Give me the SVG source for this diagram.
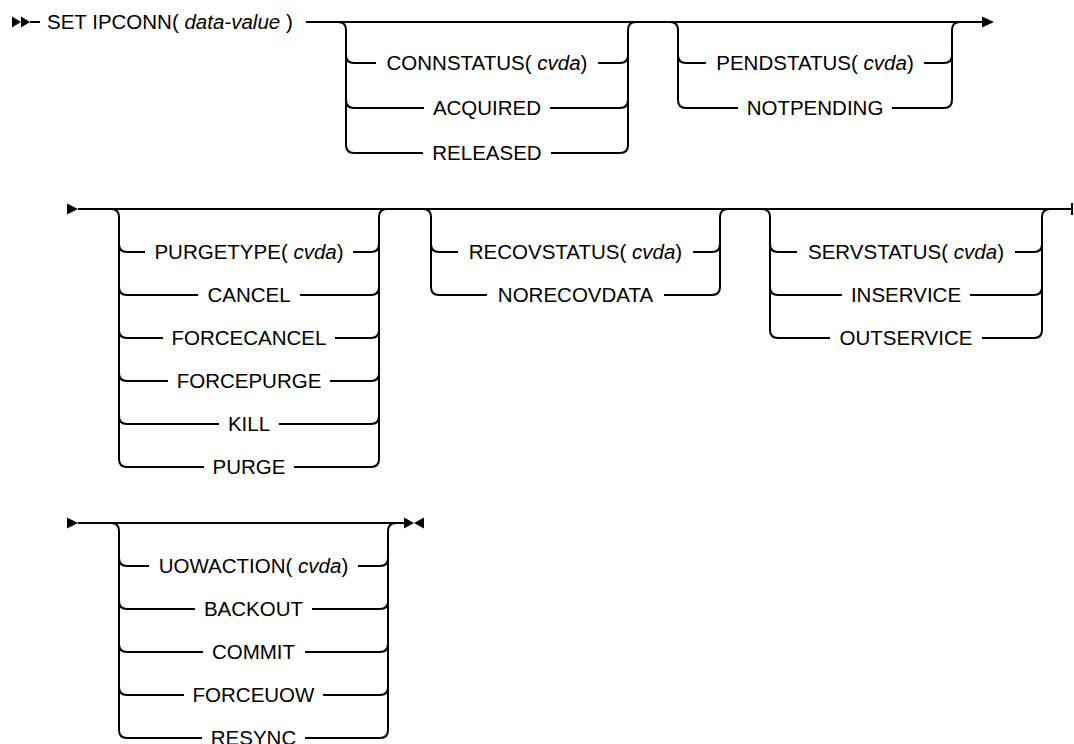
<svg xmlns="http://www.w3.org/2000/svg" width="1074" height="744" viewBox="0 0 1074 744">
<style>
text{font-family:"Liberation Sans",Arial,sans-serif;font-size:20.5px;fill:#000}
.c text{text-anchor:middle}
.i{font-style:italic}
.ln path{fill:none;stroke:#000;stroke-width:2}
.ar{fill:#000}
</style>
<rect width="1074" height="744" fill="#fff"/>
<g id="connectors" class="ln">
<!-- row 1 -->
<path d="M30,22 L40,22"/>
<path d="M306,22 L984,22"/>
<path d="M338,22 Q346,22 346,30 L346,145 Q346,153 354,153 L423,153"/>
<path d="M346,55 Q346,63 354,63 L376,63"/>
<path d="M346,100 Q346,108 354,108 L424,108"/>
<path d="M636,22 Q628,22 628,30 L628,145 Q628,153 620,153 L551,153"/>
<path d="M598,63 L620,63 Q628,63 628,55"/>
<path d="M550,108 L620,108 Q628,108 628,100"/>
<path d="M670,22 Q678,22 678,30 L678,100 Q678,108 686,108 L738,108"/>
<path d="M678,55 Q678,63 686,63 L706,63"/>
<path d="M960,22 Q952,22 952,30 L952,100 Q952,108 944,108 L892,108"/>
<path d="M924,63 L944,63 Q952,63 952,55"/>
<!-- row 2 -->
<path d="M78,209 L1072,209"/>
<path d="M1072,203 L1072,215"/>
<path d="M111,209 Q119,209 119,217 L119,459 Q119,467 127,467 L204,467"/>
<path d="M119,244 Q119,252 127,252 L145,252"/>
<path d="M119,287 Q119,295 127,295 L198,295"/>
<path d="M119,330 Q119,338 127,338 L163,338"/>
<path d="M119,373 Q119,381 127,381 L168,381"/>
<path d="M119,416 Q119,424 127,424 L219,424"/>
<path d="M387,209 Q379,209 379,217 L379,459 Q379,467 371,467 L294,467"/>
<path d="M353,252 L371,252 Q379,252 379,244"/>
<path d="M300,295 L371,295 Q379,295 379,287"/>
<path d="M335,338 L371,338 Q379,338 379,330"/>
<path d="M330,381 L371,381 Q379,381 379,373"/>
<path d="M279,424 L371,424 Q379,424 379,416"/>
<path d="M423,209 Q431,209 431,217 L431,287 Q431,295 439,295 L487,295"/>
<path d="M431,244 Q431,252 439,252 L458,252"/>
<path d="M728,209 Q720,209 720,217 L720,287 Q720,295 712,295 L664,295"/>
<path d="M693,252 L712,252 Q720,252 720,244"/>
<path d="M762,209 Q770,209 770,217 L770,330 Q770,338 778,338 L830,338"/>
<path d="M770,244 Q770,252 778,252 L797,252"/>
<path d="M770,287 Q770,295 778,295 L842,295"/>
<path d="M1050,209 Q1042,209 1042,217 L1042,330 Q1042,338 1034,338 L982,338"/>
<path d="M1015,252 L1034,252 Q1042,252 1042,244"/>
<path d="M970,295 L1034,295 Q1042,295 1042,287"/>
<!-- row 3 -->
<path d="M78,523 L405,523"/>
<path d="M111,523 Q119,523 119,531 L119,730 Q119,738 127,738 L202,738"/>
<path d="M119,558 Q119,566 127,566 L149,566"/>
<path d="M119,601 Q119,609 127,609 L195,609"/>
<path d="M119,644 Q119,652 127,652 L203,652"/>
<path d="M119,687 Q119,695 127,695 L184,695"/>
<path d="M396,523 Q388,523 388,531 L388,730 Q388,738 380,738 L305,738"/>
<path d="M358,566 L380,566 Q388,566 388,558"/>
<path d="M312,609 L380,609 Q388,609 388,601"/>
<path d="M305,652 L380,652 Q388,652 388,644"/>
<path d="M323,695 L380,695 Q388,695 388,687"/>
</g>
<g id="markers" class="ar">
<polygon points="12,16.5 21,22 12,27.5"/>
<polygon points="21,16.5 30,22 21,27.5"/>
<polygon points="982,16.5 994,22 982,27.5"/>
<polygon points="67,203.5 78,209 67,214.5"/>
<polygon points="67,517.5 78,523 67,528.5"/>
<polygon points="404,517.5 414,523 404,528.5"/>
<polygon points="424,517.5 414,523 424,528.5"/>
</g>
<g id="title"><text x="47" y="29.3">SET IPCONN( <tspan class="i">data-value</tspan> )</text></g>
<g id="connstatus" class="c">
<text x="487" y="70.3">CONNSTATUS( <tspan class="i">cvda</tspan>)</text>
<text x="487" y="115.3">ACQUIRED</text>
<text x="487" y="160.3">RELEASED</text>
</g>
<g id="pendstatus" class="c">
<text x="815" y="70.3">PENDSTATUS( <tspan class="i">cvda</tspan>)</text>
<text x="815" y="115.3">NOTPENDING</text>
</g>
<g id="purgetype" class="c">
<text x="249" y="259.3">PURGETYPE( <tspan class="i">cvda</tspan>)</text>
<text x="249" y="302.3">CANCEL</text>
<text x="249" y="345.3">FORCECANCEL</text>
<text x="249" y="388.3">FORCEPURGE</text>
<text x="249" y="431.3">KILL</text>
<text x="249" y="474.3">PURGE</text>
</g>
<g id="recovstatus" class="c">
<text x="575.5" y="259.3">RECOVSTATUS( <tspan class="i">cvda</tspan>)</text>
<text x="575.5" y="302.3">NORECOVDATA</text>
</g>
<g id="servstatus" class="c">
<text x="906" y="259.3">SERVSTATUS( <tspan class="i">cvda</tspan>)</text>
<text x="906" y="302.3">INSERVICE</text>
<text x="906" y="345.3">OUTSERVICE</text>
</g>
<g id="uowaction" class="c">
<text x="253.5" y="573.3">UOWACTION( <tspan class="i">cvda</tspan>)</text>
<text x="253.5" y="616.3">BACKOUT</text>
<text x="253.5" y="659.3">COMMIT</text>
<text x="253.5" y="702.3">FORCEUOW</text>
<text x="253.5" y="745.3">RESYNC</text>
</g>
</svg>
